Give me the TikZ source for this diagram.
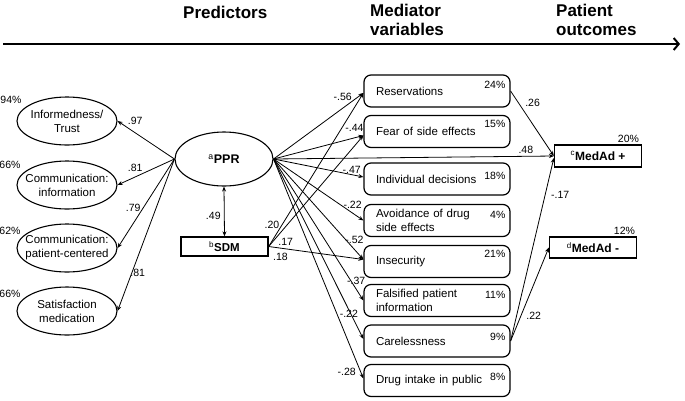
\documentclass[tikz,border=0pt]{standalone}
\usepackage{fontspec}
\setmainfont{Liberation Sans}
\usetikzlibrary{shapes.geometric,arrows.meta,calc}
\begin{document}
\begin{tikzpicture}[x=1pt,y=-1pt,
 every node/.style={font=\fontsize{11.5}{14}\selectfont},
 hdr/.style={font=\fontsize{17}{19}\selectfont\bfseries, align=left, anchor=west, inner sep=0pt},
 ell/.style={ellipse, draw, line width=1.1pt, minimum width=100pt, minimum height=48pt, align=center, inner xsep=-8pt, inner ysep=0pt},
 med/.style={draw, rounded corners=7pt, line width=1.2pt, minimum height=32pt, text width=122pt, inner xsep=12pt, inner ysep=2pt, align=left},
 obox/.style={draw, line width=1.3pt, minimum width=87pt, inner sep=0pt, font=\fontsize{12}{14}\selectfont\bfseries},
 pct/.style={font=\fontsize{10.5}{12}\selectfont, inner sep=0pt},
 lbl/.style={font=\fontsize{10.5}{12}\selectfont, inner sep=0pt},
 arr/.style={-{Stealth[length=5pt,width=4pt]}, line width=0.8pt},
 darr/.style={{Stealth[length=5pt,width=4pt]}-{Stealth[length=5pt,width=4pt]}, line width=0.8pt},
]
\useasboundingbox (0,0) rectangle (685,400);

% header
\coordinate (hs) at (3,44);
\coordinate (he) at (680,44);
\draw[line width=2pt, -{Straight Barb[length=5pt,width=12pt]}] (hs) -- (he);
\node[hdr] (hP) at (183,12) {Predictors};
\node[hdr] (hM) at (370,20) {Mediator\\variables};
\node[hdr] (hO) at (556,20) {Patient\\outcomes};

% left indicators
\node[ell] (e1) at (67,121) {Informedness/\\Trust};
\node[ell] (e2) at (67,185) {Communication:\\information};
\node[ell] (e3) at (67,248) {Communication:\\patient-centered};
\node[ell] (e4) at (67,311) {Satisfaction\\medication};
\node[pct] (q1) at (11,100) {94\%};
\node[pct] (q2) at (10,165) {66\%};
\node[pct] (q3) at (10,231) {62\%};
\node[pct] (q4) at (10,294) {66\%};

% predictors
\node[ell, minimum width=98pt, minimum height=54pt, font=\fontsize{12.5}{14}\selectfont\bfseries] (ppr) at (224,159) {\textsuperscript{\mdseries a}PPR};
\node[obox, minimum height=19pt, font=\fontsize{11.5}{14}\selectfont\bfseries] (sdm) at (224.5,246.5) {\textsuperscript{\mdseries b}SDM};

% mediators
\node[med] (m1) at (437,91) {Reservations};
\node[med] (m2) at (437,131.5) {Fear of side effects};
\node[med] (m3) at (437,179) {Individual decisions};
\node[med] (m4) at (437,220.5) {Avoidance of drug\\side effects};
\node[med] (m5) at (437,261.5) {Insecurity};
\node[med] (m6) at (437,300.5) {Falsified patient\\information};
\node[med] (m7) at (437,341) {Carelessness};
\node[med] (m8) at (437,380.5) {Drug intake in public};
\node[pct, anchor=east] (p1) at ($(m1.north east)+(-5,10)$) {24\%};
\node[pct, anchor=east] (p2) at ($(m2.north east)+(-5,9)$) {15\%};
\node[pct, anchor=east] (p3) at ($(m3.north east)+(-5,13)$) {18\%};
\node[pct, anchor=east] (p4) at ($(m4.north east)+(-5,11)$) {4\%};
\node[pct, anchor=east] (p5) at ($(m5.north east)+(-5,9)$) {21\%};
\node[pct, anchor=east] (p6) at ($(m6.north east)+(-5,11)$) {11\%};
\node[pct, anchor=east] (p7) at ($(m7.north east)+(-5,12)$) {9\%};
\node[pct, anchor=east] (p8) at ($(m8.north east)+(-5,13)$) {8\%};

% outcomes
\node[obox, minimum height=22pt] (o1) at (598,156) {\textsuperscript{\mdseries c}MedAd +};
\node[obox, minimum height=21pt] (o2) at (593,247.5) {\textsuperscript{\mdseries d}MedAd -};
\node[pct, anchor=south east] (r1) at ($(o1.north east)+(-3,-2)$) {20\%};
\node[pct, anchor=south east] (r2) at ($(o2.north east)+(-2,-2)$) {12\%};

% measurement paths
\draw[arr] (ppr.west) -- (e1.east) node[lbl, pos=0.69, yshift=12pt] {.97};
\draw[arr] (ppr.west) -- (e2.east) node[lbl, pos=0.69, yshift=9pt] {.81};
\draw[arr] (ppr.west) -- (e3.east) node[lbl, pos=0.55, xshift=-10pt] {.79};
\draw[arr] (ppr.west) -- (e4.east) node[lbl, pos=0.75, xshift=6pt] {.81};
\draw[darr] (ppr.south) -- (sdm.north) node[lbl, pos=0.59, xshift=-11pt] {.49};

% PPR -> mediators
\draw[arr] (ppr.east) -- ($(m1.west)+(0,2)$) node[lbl, pos=0.77, yshift=11pt] {-.56};
\draw[arr] (ppr.east) -- ($(m2.west)+(0,4)$) node[lbl, pos=0.9, yshift=10pt] {-.44};
\draw[arr] (ppr.east) -- (o1.west) node[lbl, pos=0.9, yshift=6pt] {.48};
\draw[arr] (ppr.east) -- ($(m3.west)+(0,-2)$) node[lbl, pos=0.87, yshift=5pt] {-.47};
\draw[arr] (ppr.east) -- (m4.west) node[lbl, pos=0.88, yshift=8pt] {-.22};
\draw[arr] (ppr.east) -- ($(m5.west)+(0,-2)$) node[lbl, pos=0.9, yshift=10pt] {-.52};
\draw[arr] (ppr.east) -- (m6.west) node[lbl, pos=0.92, yshift=8pt] {-.37};
\draw[arr] (ppr.east) -- ($(m7.west)+(0,-2)$) node[lbl, pos=0.86, xshift=-2pt] {-.22};
\draw[arr] (ppr.east) -- ($(m8.west)+(0,-2)$) node[lbl, pos=0.97, xshift=-14pt] {-.28};

% SDM -> mediators
\draw[arr] (sdm.east) -- ($(m1.west)+(0,2)$) node[lbl, pos=0.14, xshift=-10pt] {.20};
\draw[arr] (sdm.east) -- ($(m2.west)+(0,4)$) node[lbl, pos=0.18, yshift=-15pt] {.17};
\draw[arr] (sdm.east) -- ($(m5.west)+(0,-2)$) node[lbl, pos=0.125, yshift=-8.5pt] {.18};

% mediators -> outcomes
\draw[arr] (m1.east) -- (o1.west) node[lbl, pos=0.185, xshift=14pt] {.26};
\draw[arr] (m7.east) -- ($(o1.west)+(0,2)$) node[lbl, pos=0.8, xshift=15pt] {-.17};
\draw[arr] (m7.east) -- (o2.west) node[lbl, pos=0.266, xshift=13pt] {.22};
\end{tikzpicture}
\end{document}
